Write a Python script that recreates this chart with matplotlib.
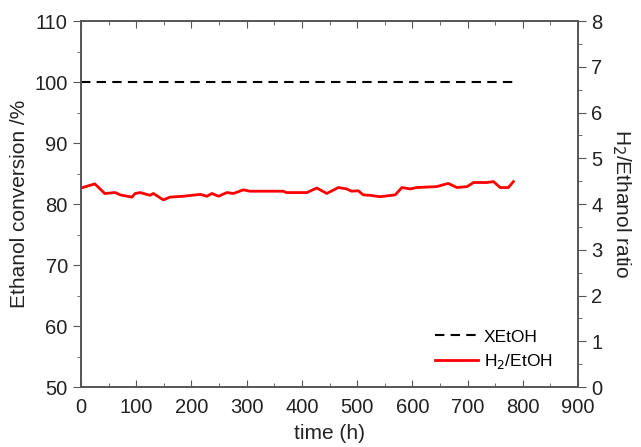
import matplotlib.pyplot as plt
from matplotlib.ticker import MultipleLocator

plt.rcParams['font.family'] = ['Liberation Sans', 'DejaVu Sans']

# time (h) and H2/EtOH ratio
time_h = [0, 25, 43, 62, 71, 92, 98, 107, 125, 131, 149, 161, 185, 216, 228, 237,
          249, 264, 276, 294, 306, 366, 372, 409, 427, 445, 466, 481, 490, 502,
          511, 523, 542, 569, 581, 596, 608, 644, 665, 681, 699, 711, 735, 747,
          759, 774, 783]
ratio = [4.35, 4.44, 4.23, 4.25, 4.20, 4.15, 4.23, 4.25, 4.19, 4.23, 4.09, 4.15,
         4.17, 4.21, 4.17, 4.23, 4.17, 4.25, 4.23, 4.31, 4.28, 4.28, 4.25, 4.25,
         4.35, 4.23, 4.36, 4.33, 4.28, 4.29, 4.20, 4.19, 4.16, 4.20, 4.36, 4.33,
         4.36, 4.38, 4.45, 4.36, 4.38, 4.47, 4.47, 4.49, 4.36, 4.36, 4.49]

# ethanol conversion
conv_time = [0, 785]
conversion = [100, 100]

fig = plt.figure(figsize=(6.41, 4.47), dpi=100)
ax = fig.add_axes([0.1264, 0.1342, 0.7753, 0.8188])
ax2 = ax.twinx()

spine_col = '#555555'
l1, = ax.plot(conv_time, conversion, color='black', lw=1.5, ls=(0, (4.5, 3)), label='XEtOH')
l2, = ax2.plot(time_h, ratio, color='red', lw=2.0, label='H$_2$/EtOH')

ax.set_xlim(0, 900)
ax.set_ylim(50, 110)
ax2.set_ylim(0, 8)

ax.xaxis.set_major_locator(MultipleLocator(100))
ax.xaxis.set_minor_locator(MultipleLocator(50))
ax.yaxis.set_major_locator(MultipleLocator(10))
ax.yaxis.set_minor_locator(MultipleLocator(5))
ax2.yaxis.set_major_locator(MultipleLocator(1))
ax2.yaxis.set_minor_locator(MultipleLocator(0.5))

ax.tick_params(axis='x', which='both', direction='in', top=True, colors=spine_col,
               labelcolor='#222222', labelsize=14.5, pad=8)
ax.tick_params(axis='x', which='major', length=5)
ax.tick_params(axis='x', which='minor', length=3)
ax.tick_params(axis='y', which='both', direction='out', colors=spine_col,
               labelcolor='#222222', labelsize=14.5)
ax.tick_params(axis='y', which='major', length=6)
ax.tick_params(axis='y', which='minor', length=3)
ax2.tick_params(axis='y', which='both', direction='out', colors=spine_col,
                labelcolor='#222222', labelsize=14.5)
ax2.tick_params(axis='y', which='major', length=6)
ax2.tick_params(axis='y', which='minor', length=3)

for a in (ax, ax2):
    for s in a.spines.values():
        s.set_color(spine_col)
        s.set_linewidth(1.2)

ax.set_xlabel('time (h)', fontsize=15, labelpad=5, color='#222222')
ax.set_ylabel('Ethanol conversion /%', fontsize=15, labelpad=4, color='#222222')
ax2.set_ylabel('H$_2$/Ethanol ratio', fontsize=15, rotation=270, labelpad=22, color='#222222')

ax2.legend([l1, l2], ['XEtOH', 'H$_2$/EtOH'], loc='lower right', frameon=False,
           fontsize=12.5, handlelength=2.5, handletextpad=0.3, labelspacing=0.45,
           bbox_to_anchor=(0.98, 0.0))

fig.savefig('out.png', dpi=100)
